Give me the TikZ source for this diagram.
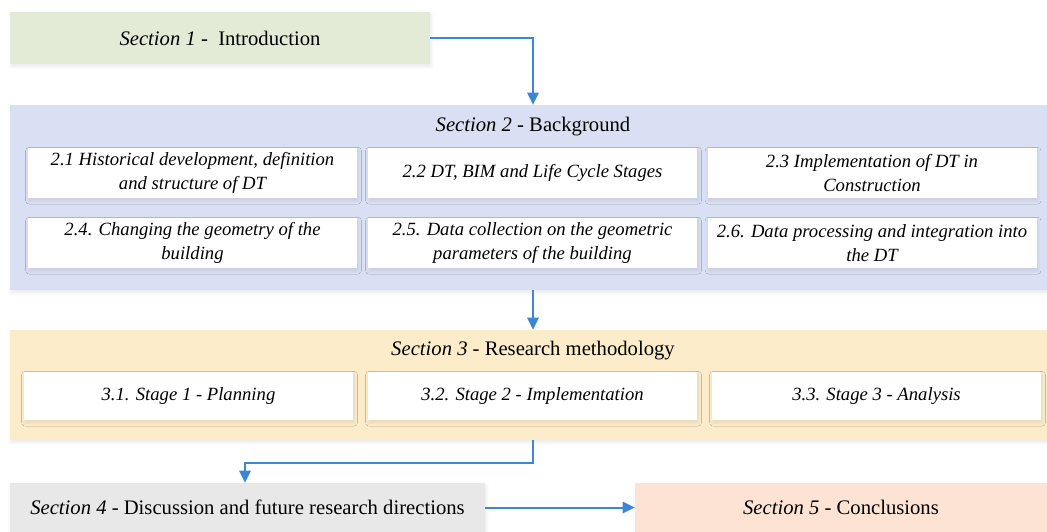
\documentclass[tikz,border=0pt]{standalone}
\usepackage{fontspec}
\setmainfont{Liberation Serif}
\usetikzlibrary{arrows.meta,shadows.blur}

\definecolor{introfill}{HTML}{E3EBD7}
\definecolor{backfill}{HTML}{DAE0F3}
\definecolor{methfill}{HTML}{FDECC9}
\definecolor{discfill}{HTML}{E8E8E8}
\definecolor{conclfill}{HTML}{FCE3D3}
\definecolor{flowblue}{HTML}{3B87D3}

\tikzset{
  soft/.style={blur shadow={shadow blur steps=8, shadow xshift=0.8pt,
      shadow yshift=-2pt, shadow opacity=9, shadow blur radius=2.5pt}},
  section/.style={rectangle, inner sep=0pt, soft,
      font=\fontsize{15.5}{18}\selectfont},
  sub/.style={rectangle, fill=white, inner sep=2pt, align=center, soft,
      minimum width=246.75pt, font=\fontsize{14}{18}\selectfont\itshape},
  title/.style={inner sep=0pt, font=\fontsize{15.5}{18}\selectfont},
  flow/.style={draw=flowblue, line width=1.5pt,
      -{Triangle[length=9pt,width=8.5pt]}},
}

\begin{document}
\begin{tikzpicture}[x=0.75pt, y=-0.75pt]
\useasboundingbox (0,0) rectangle (1047,532);

% Section 1
\node[section, fill=introfill, minimum width=315pt, minimum height=39pt]
  (s1) at (220,38) {\textit{Section 1} -~ Introduction};

% Section 2 with its six subsections
\node[section, fill=backfill, minimum width=777.75pt, minimum height=138.75pt]
  (s2) at (528.5,197.5) {};
\node[title] (t2) at (533,127) {\textit{Section 2} - Background};
\node[sub, minimum height=37.5pt] (b21) at (192.5,173)
  {2.1 Historical development, definition\\and structure of DT};
\node[sub, minimum height=37.5pt] (b22) at (532.5,173)
  {2.2 DT, BIM and Life Cycle Stages};
\node[sub, minimum height=37.5pt] (b23) at (872,173)
  {2.3 Implementation of DT in\\Construction};
\node[sub, minimum height=37.5pt] (b24) at (192.5,243)
  {2.4. Changing the geometry of the\\building};
\node[sub, minimum height=37.5pt] (b25) at (532.5,243)
  {2.5. Data collection on the geometric\\parameters of the building};
\node[sub, minimum height=37.5pt] (b26) at (872,243)
  {2.6. Data processing and integration into\\the DT};

% Section 3 with its three stages
\node[section, fill=methfill, minimum width=777.75pt, minimum height=82.5pt]
  (s3) at (528.5,385) {};
\node[title] (t3) at (533,351) {\textit{Section 3} - Research methodology};
\node[sub, minimum height=36pt] (b31) at (188.5,396) {3.1. Stage 1 - Planning};
\node[sub, minimum height=36pt] (b32) at (532.5,396) {3.2. Stage 2 - Implementation};
\node[sub, minimum height=36pt] (b33) at (876.5,396) {3.3. Stage 3 - Analysis};

% Sections 4 and 5
\node[section, fill=discfill, minimum width=356.25pt, minimum height=36.75pt]
  (s4) at (247.5,507.5) {\textit{Section 4} - Discussion and future research directions};
\node[section, fill=conclfill, minimum width=309pt, minimum height=36.75pt]
  (s5) at (841,507.5) {\textit{Section 5} - Conclusions};

% Flow connectors
\coordinate (in2) at ([xshift=3.4pt]s2.north);
\coordinate (out2) at ([xshift=3.4pt]s2.south);
\coordinate (in3) at ([xshift=3.4pt]s3.north);
\coordinate (out3) at ([xshift=3.4pt]s3.south);
\coordinate (in4) at ([xshift=-1.9pt]s4.north);
\draw[flow] (s1.east) -| (in2);
\draw[flow] (out2) -- (in3);
\draw[flow] (out3) -- ++(0,23) -| (in4);
\draw[flow] (s4.east) -- (s5.west);
\end{tikzpicture}
\end{document}
